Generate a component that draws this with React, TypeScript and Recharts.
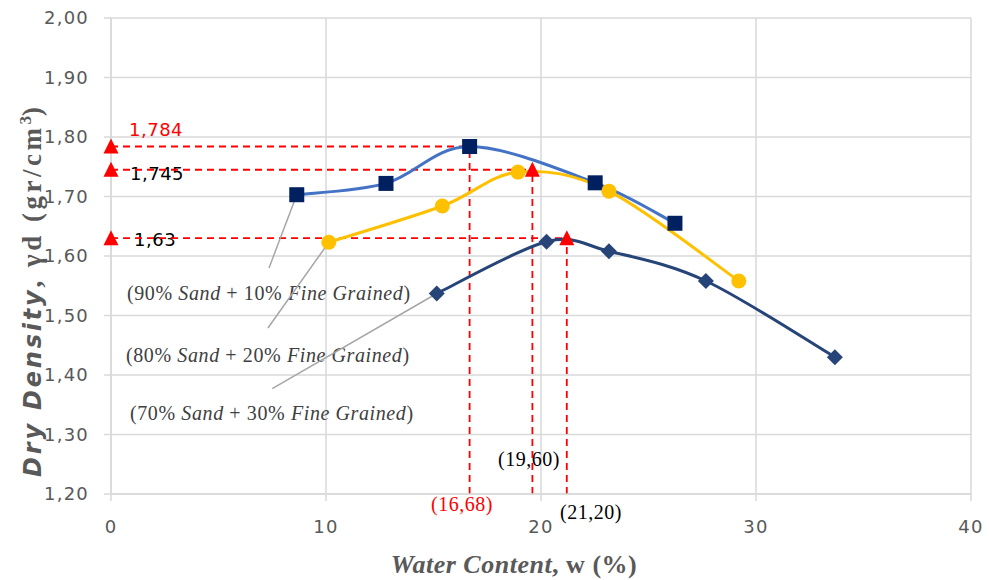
import {
  ComposedChart,
  Line,
  Scatter,
  XAxis,
  YAxis,
  CartesianGrid,
  ReferenceLine,
} from "recharts";

// water content (%) / dry density (gr/cm3)
const sand90W = [8.64, 12.79, 16.68, 22.52, 26.23];
const sand90D = [1.703, 1.722, 1.784, 1.723, 1.655];
const sand80W = [10.13, 15.41, 18.93, 23.16, 29.2];
const sand80D = [1.623, 1.684, 1.741, 1.709, 1.558];
const sand70W = [15.15, 20.26, 23.16, 27.67, 33.67];
const sand70D = [1.537, 1.624, 1.608, 1.558, 1.43];

// optimum water content and max dry density per mix
const optW = [16.68, 19.6, 21.2];
const maxD = [1.784, 1.745, 1.63];
const optLabels = ["(16,68)", "(19,60)", "(21,20)"];
const maxLabels = ["1,784", "1,745", "1,63"];

const xTicks = [0, 10, 20, 30, 40];
const yTicks = [1.2, 1.3, 1.4, 1.5, 1.6, 1.7, 1.8, 1.9, 2.0];

const mixNames = [
  ["90%", "10%"],
  ["80%", "20%"],
  ["70%", "30%"],
];

const toPts = (w: number[], d: number[]) => w.map((x, i) => ({ x, y: d[i] }));

// excel style smoothing (catmull-rom through the points)
const excelCurve = (ctx: any) => {
  let pts: [number, number][] = [];
  return {
    areaStart() {},
    areaEnd() {},
    lineStart() {
      pts = [];
    },
    lineEnd() {
      if (!pts.length) return;
      ctx.moveTo(pts[0][0], pts[0][1]);
      for (let i = 0; i < pts.length - 1; i++) {
        const p0 = pts[i - 1] || pts[i];
        const p1 = pts[i];
        const p2 = pts[i + 1];
        const p3 = pts[i + 2] || p2;
        ctx.bezierCurveTo(
          p1[0] + (p2[0] - p0[0]) / 6,
          p1[1] + (p2[1] - p0[1]) / 6,
          p2[0] - (p3[0] - p1[0]) / 6,
          p2[1] - (p3[1] - p1[1]) / 6,
          p2[0],
          p2[1]
        );
      }
    },
    point(x: number, y: number) {
      pts.push([x, y]);
    },
  };
};

const Square = (p: any) => (
  <rect x={p.cx - 7.5} y={p.cy - 7.5} width={15} height={15} fill="#002060" />
);
const Circle = (p: any) => <circle cx={p.cx} cy={p.cy} r={7.5} fill="#FFC000" />;
const Diamond = (p: any) => (
  <path
    d={`M${p.cx},${p.cy - 8}L${p.cx + 8},${p.cy}L${p.cx},${p.cy + 8}L${p.cx - 8},${p.cy}Z`}
    fill="#264478"
  />
);
const Triangle = (p: any) => (
  <path
    d={`M${p.cx},${p.cy - 8}L${p.cx + 7.5},${p.cy + 7}L${p.cx - 7.5},${p.cy + 7}Z`}
    fill="#FF0000"
  />
);

const tickStyle = {
  fill: "#595959",
  fontSize: 18,
  fontFamily: "DejaVu Sans",
  letterSpacing: 1.2,
};
const serif = "Liberation Serif";

export default function App() {
  const markers = [
    ...maxD.map((y) => ({ x: 0, y })),
    ...optW.slice(1).map((x, i) => ({ x, y: maxD[i + 1] })),
  ];
  const leaders = [
    { from: { x: 7.35, y: 1.58 }, to: { x: sand90W[0], y: sand90D[0] } },
    { from: { x: 7.3, y: 1.479 }, to: { x: sand80W[0], y: sand80D[0] } },
    { from: { x: 7.5, y: 1.377 }, to: { x: sand70W[0], y: sand70D[0] } },
  ];
  const mixY = [300, 362, 420];
  const mixX = [127, 126, 130];

  return (
    <div style={{ position: "absolute", left: 0, top: 0, background: "#fff" }}>
      <ComposedChart
        width={989}
        height={580}
        margin={{ top: 18, right: 18, bottom: 0, left: 0 }}
      >
        <CartesianGrid stroke="#D9D9D9" strokeWidth={1.5} />
        <XAxis
          type="number"
          dataKey="x"
          domain={[0, 40]}
          ticks={xTicks}
          height={86}
          stroke="#D9D9D9"
          strokeWidth={1.5}
          tickSize={7}
          tick={tickStyle}
          tickMargin={19}
        />
        <YAxis
          type="number"
          dataKey="y"
          domain={[1.2, 2.0]}
          ticks={yTicks}
          width={111}
          stroke="#D9D9D9"
          strokeWidth={1.5}
          tickSize={7}
          tickMargin={15}
          tick={tickStyle}
          tickFormatter={(v: number) => v.toFixed(2).replace(".", ",")}
        />

        {optW.map((w, i) => (
          <ReferenceLine
            key={"h" + i}
            segment={[
              { x: 0, y: maxD[i] },
              { x: w, y: maxD[i] },
            ]}
            stroke="#FF0000"
            strokeWidth={1.8}
            strokeDasharray="7 5"
          />
        ))}
        {optW.map((w, i) => (
          <ReferenceLine
            key={"v" + i}
            segment={[
              { x: w, y: 1.2 },
              { x: w, y: maxD[i] },
            ]}
            stroke="#FF0000"
            strokeWidth={1.8}
            strokeDasharray="7 5"
          />
        ))}
        {leaders.map((l, i) => (
          <ReferenceLine
            key={"l" + i}
            segment={[l.from, l.to]}
            stroke="#A6A6A6"
            strokeWidth={1.5}
          />
        ))}

        <Line
          data={toPts(sand90W, sand90D)}
          dataKey="y"
          type={excelCurve as any}
          stroke="#4472C4"
          strokeWidth={3}
          dot={<Square />}
          activeDot={false}
          isAnimationActive={false}
        />
        <Line
          data={toPts(sand80W, sand80D)}
          dataKey="y"
          type={excelCurve as any}
          stroke="#FFC000"
          strokeWidth={3}
          dot={<Circle />}
          activeDot={false}
          isAnimationActive={false}
        />
        <Line
          data={toPts(sand70W, sand70D)}
          dataKey="y"
          type={excelCurve as any}
          stroke="#264478"
          strokeWidth={3}
          dot={<Diamond />}
          activeDot={false}
          isAnimationActive={false}
        />
        <Scatter data={markers} shape={<Triangle />} isAnimationActive={false} />

        {/* value labels */}
        <text x={129} y={136} fill="#FF0000" fontSize={18} fontFamily="DejaVu Sans" letterSpacing={0.5}>
          {maxLabels[0]}
        </text>
        <text x={130} y={180} fill="#000" fontSize={18} fontFamily="DejaVu Sans" letterSpacing={0.5}>
          {maxLabels[1]}
        </text>
        <text x={134} y={246} fill="#000" fontSize={18} fontFamily="DejaVu Sans" letterSpacing={0.5}>
          {maxLabels[2]}
        </text>
        <text x={462} y={511} textAnchor="middle" fill="#FF0000" fontSize={20} fontFamily={serif} letterSpacing={0.5}>
          {optLabels[0]}
        </text>
        <text x={529} y={466} textAnchor="middle" fill="#000" fontSize={20} fontFamily={serif} letterSpacing={0.5}>
          {optLabels[1]}
        </text>
        <text x={591} y={519} textAnchor="middle" fill="#000" fontSize={20} fontFamily={serif} letterSpacing={0.5}>
          {optLabels[2]}
        </text>

        {mixNames.map((m, i) => (
          <text
            key={"m" + i}
            x={mixX[i]}
            y={mixY[i]}
            fill="#404040"
            fontSize={20}
            fontFamily={serif}
            letterSpacing={0.6}
          >
            ({m[0]} <tspan fontStyle="italic">Sand</tspan> + {m[1]}{" "}
            <tspan fontStyle="italic">Fine Grained</tspan>)
          </text>
        ))}

        {/* axis titles */}
        <text
          x={514}
          y={573}
          textAnchor="middle"
          fill="#595959"
          fontSize={26}
          fontFamily={serif}
          fontWeight="bold"
          letterSpacing={0.5}
        >
          <tspan fontStyle="italic">Water Content</tspan>, w (%)
        </text>
        <text
          transform="translate(41,292) rotate(-90)"
          textAnchor="middle"
          fill="#595959"
          fontSize={27}
          fontWeight="bold"
        >
          <tspan fontFamily="DejaVu Sans" fontStyle="italic" fontSize={24} letterSpacing={2.8}>
            Dry Density
          </tspan>
          <tspan fontFamily={serif} letterSpacing={3.5}>, γd (gr/cm</tspan>
          <tspan fontFamily={serif} fontSize={17} dy={-10}>
            3
          </tspan>
          <tspan fontFamily={serif} dy={10}>
            )
          </tspan>
        </text>
      </ComposedChart>
    </div>
  );
}
